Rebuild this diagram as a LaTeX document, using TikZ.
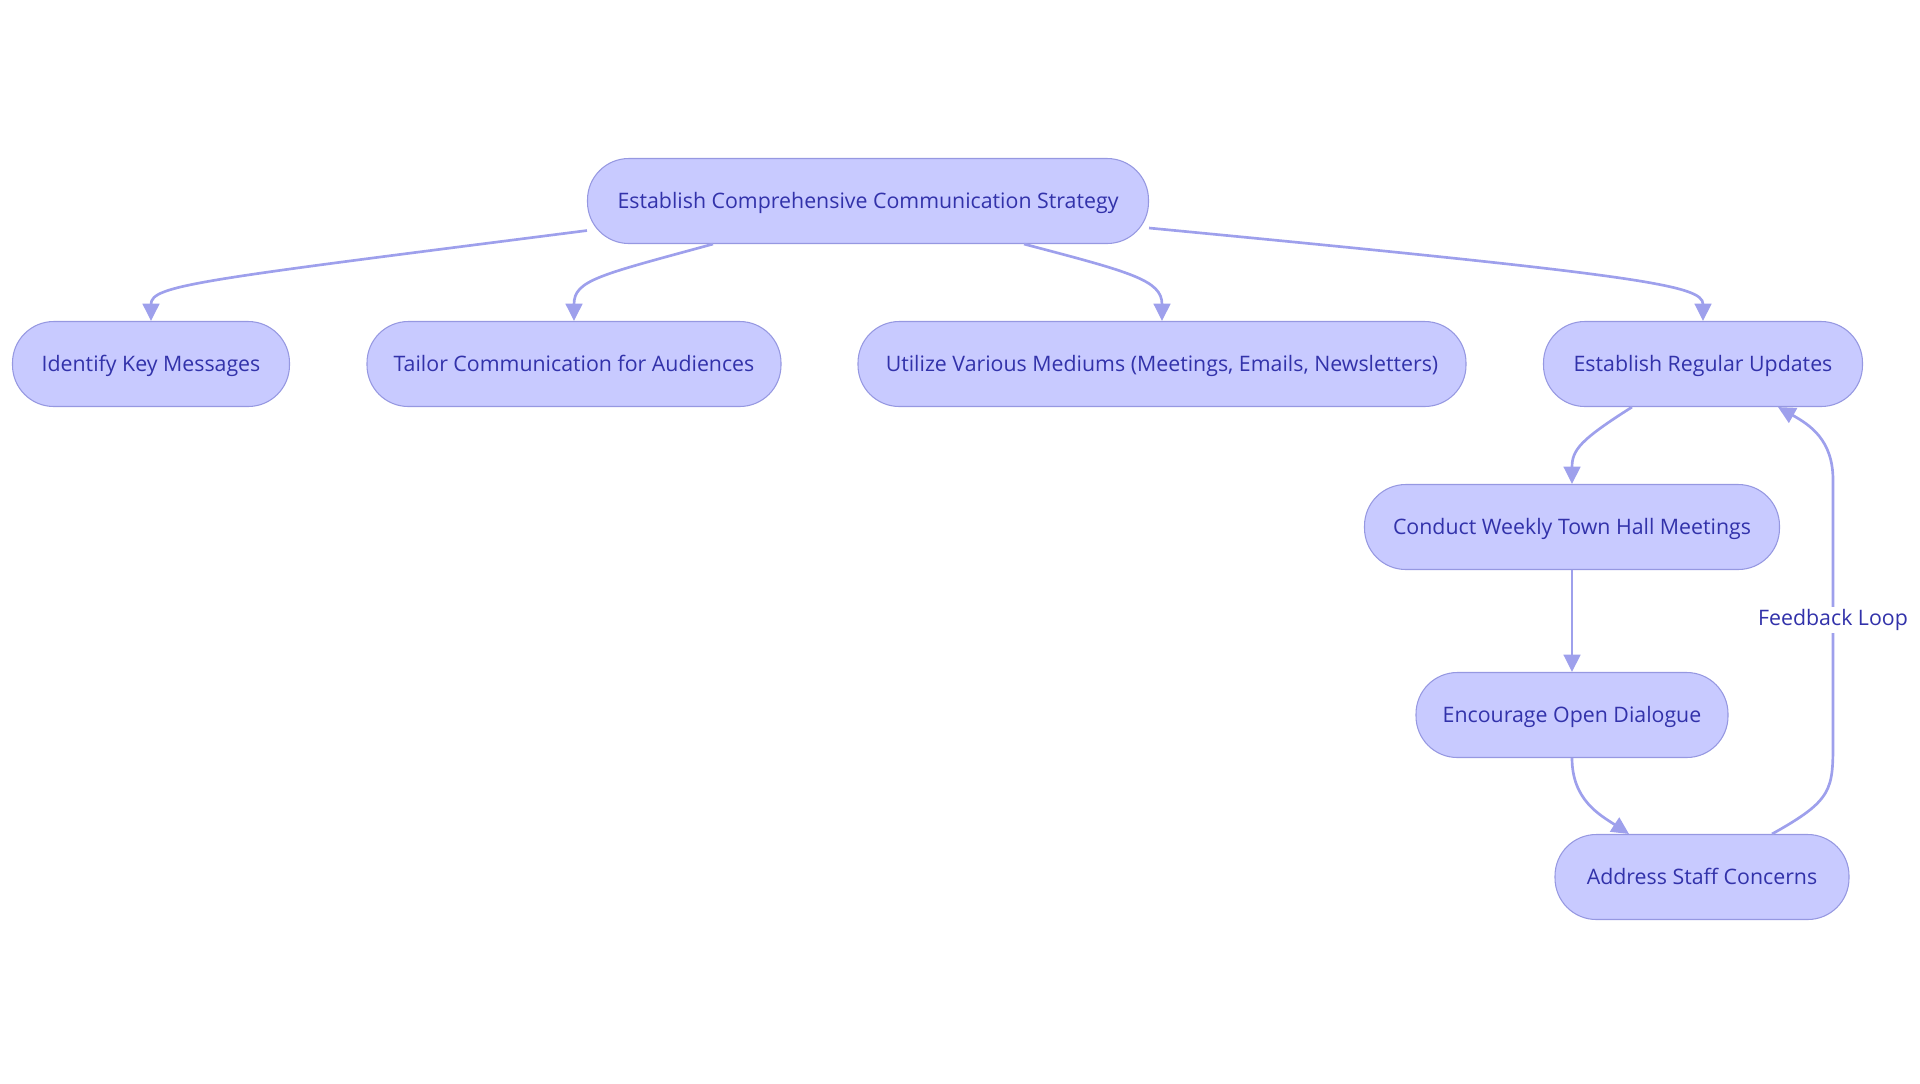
\documentclass[tikz,border=0pt]{standalone}
\usepackage{fontspec}
\setmainfont{Open Sans}
\usetikzlibrary{arrows.meta,calc}
\definecolor{nodefill}{RGB}{200,202,255}
\definecolor{nodedraw}{RGB}{150,152,225}
\definecolor{edgecol}{RGB}{158,160,236}
\definecolor{textcol}{RGB}{50,50,170}
\begin{document}
\begin{tikzpicture}[x=0.75pt,y=-0.75pt,
  box/.style={draw=nodedraw,fill=nodefill,line width=0.8pt,rounded corners=31pt,
    minimum height=63.75pt,inner sep=0pt,text=textcol,text height=1.35em,text depth=0.3em,
    font=\fontsize{16}{19}\selectfont},
  edge/.style={draw=edgecol,line width=2pt,-{Triangle[length=13pt,width=12.5pt]}},
  lbl/.style={fill=white,text=textcol,inner sep=2pt,font=\fontsize{16}{19}\selectfont}]
\useasboundingbox (0,0) rectangle (1920,1083);
\node[box,minimum width=420.75pt] (root) at (868,201) {Establish Comprehensive Communication Strategy};
\node[box,minimum width=207.75pt] (key) at (151,364) {Identify Key Messages};
\node[box,minimum width=310.5pt] (tailor) at (574,364) {Tailor Communication for Audiences};
\node[box,minimum width=456pt] (util) at (1162,364) {Utilize Various Mediums (Meetings, Emails, Newsletters)};
\node[box,minimum width=239.25pt] (reg) at (1703,364) {Establish Regular Updates};
\node[box,minimum width=311.25pt] (town) at (1572,527) {Conduct Weekly Town Hall Meetings};
\node[box,minimum width=234pt] (dia) at (1572,715) {Encourage Open Dialogue};
\node[box,minimum width=220.5pt] (addr) at (1702,877) {Address Staff Concerns};

\draw[edge] (root.186.5) .. controls (200,280) and (151,285) .. (key.north);
\draw[edge] ($(root.south)+(-155,0)$) .. controls (600,275) and (574,280) .. (tailor.north);
\draw[edge] ($(root.south)+(156,0)$) .. controls (1130,272) and (1162,280) .. (util.north);
\draw[edge] ($(root.east)+(0,27)$) .. controls (1640,275) and (1703,285) .. (reg.north);
\draw[edge] ($(reg.south)+(-71,0)$) .. controls (1580,440) and (1572,450) .. (town.north);
\draw[edge] (town.south) -- (dia.north);
\draw[edge] (dia.south) .. controls (1572,800) and (1600,815) .. ($(addr.north)+(-73,0)$);
\draw[edge] ($(addr.north)+(70,0)$) .. controls (1833,800) and (1833,790) .. (1833,740)
  -- (1833,480) .. controls (1833,440) and (1810,425) .. ($(reg.south)+(75,0)$);
\node[lbl] (fb) at (1833,620) {Feedback Loop};
\end{tikzpicture}
\end{document}
